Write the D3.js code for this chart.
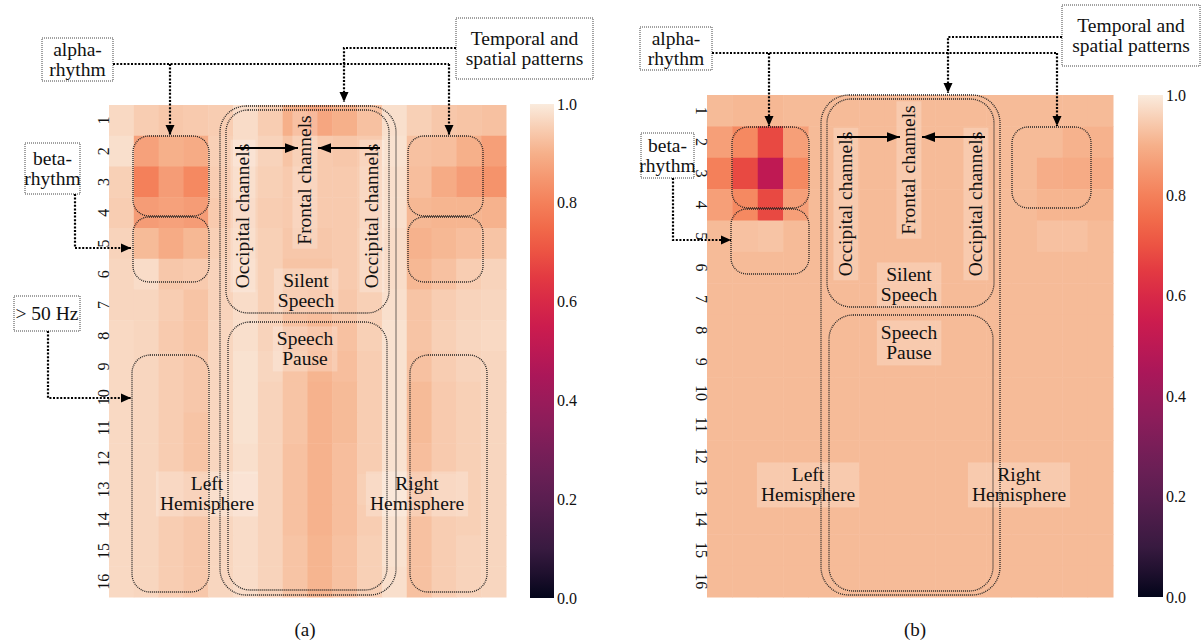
<!DOCTYPE html>
<meta charset="utf-8">
<style>
body { margin: 0; background: #fff; }
text { font-family: "Liberation Serif", "Times New Roman", serif; fill: #111; }
</style>
<body>
<script src="https://d3js.org/d3.v7.min.js"></script>
<script>

// row labels (frequency bands) and colorbar ticks
var rowLabels = d3.range(1, 17).map(String);
var cbTicks = [0, 0.2, 0.4, 0.6, 0.8, 1.0];

// panel (a): 16 bands x 16 channels
var valuesA = [
  [0.97, 0.95, 0.94, 0.945, 0.95, 0.975, 0.95, 0.90, 0.88, 0.90, 0.93, 0.98, 0.955, 0.94, 0.935, 0.93],
  [0.98, 0.87, 0.90, 0.89, 0.955, 0.975, 0.96, 0.935, 0.945, 0.94, 0.945, 0.985, 0.93, 0.925, 0.90, 0.865],
  [0.955, 0.80, 0.86, 0.82, 0.95, 0.965, 0.955, 0.945, 0.945, 0.945, 0.95, 0.98, 0.925, 0.89, 0.86, 0.84],
  [0.95, 0.86, 0.87, 0.86, 0.945, 0.96, 0.95, 0.945, 0.945, 0.945, 0.95, 0.98, 0.915, 0.91, 0.91, 0.905],
  [0.96, 0.92, 0.89, 0.915, 0.955, 0.965, 0.955, 0.94, 0.94, 0.945, 0.955, 0.975, 0.905, 0.915, 0.925, 0.935],
  [0.965, 0.975, 0.94, 0.945, 0.96, 0.97, 0.955, 0.935, 0.935, 0.945, 0.955, 0.975, 0.915, 0.93, 0.95, 0.96],
  [0.965, 0.965, 0.95, 0.935, 0.96, 0.975, 0.955, 0.93, 0.925, 0.94, 0.955, 0.98, 0.935, 0.95, 0.96, 0.965],
  [0.97, 0.965, 0.945, 0.935, 0.965, 0.98, 0.96, 0.93, 0.915, 0.93, 0.955, 0.985, 0.935, 0.955, 0.965, 0.97],
  [0.97, 0.965, 0.95, 0.94, 0.965, 0.985, 0.965, 0.935, 0.91, 0.925, 0.95, 0.985, 0.93, 0.95, 0.96, 0.965],
  [0.97, 0.965, 0.95, 0.94, 0.965, 0.985, 0.96, 0.935, 0.905, 0.92, 0.95, 0.985, 0.92, 0.945, 0.955, 0.965],
  [0.97, 0.965, 0.95, 0.935, 0.965, 0.985, 0.96, 0.935, 0.905, 0.92, 0.95, 0.985, 0.92, 0.945, 0.955, 0.965],
  [0.97, 0.965, 0.95, 0.935, 0.965, 0.98, 0.96, 0.93, 0.905, 0.925, 0.95, 0.985, 0.925, 0.945, 0.955, 0.965],
  [0.97, 0.965, 0.95, 0.94, 0.965, 0.975, 0.96, 0.93, 0.905, 0.925, 0.955, 0.985, 0.93, 0.95, 0.955, 0.965],
  [0.97, 0.965, 0.95, 0.94, 0.965, 0.975, 0.96, 0.93, 0.905, 0.925, 0.95, 0.985, 0.93, 0.95, 0.955, 0.965],
  [0.97, 0.965, 0.95, 0.94, 0.965, 0.975, 0.96, 0.935, 0.91, 0.93, 0.955, 0.985, 0.93, 0.95, 0.96, 0.965],
  [0.97, 0.965, 0.95, 0.94, 0.965, 0.975, 0.96, 0.935, 0.91, 0.93, 0.955, 0.98, 0.93, 0.95, 0.96, 0.965]
];

// panel (b)
var valuesB = [
  [0.92, 0.915, 0.915, 0.92, 0.92, 0.92, 0.92, 0.92, 0.92, 0.92, 0.92, 0.92, 0.92, 0.92, 0.92, 0.92],
  [0.865, 0.82, 0.68, 0.865, 0.92, 0.92, 0.92, 0.92, 0.92, 0.92, 0.92, 0.92, 0.92, 0.92, 0.905, 0.905],
  [0.80, 0.68, 0.51, 0.82, 0.92, 0.92, 0.92, 0.92, 0.92, 0.92, 0.92, 0.92, 0.92, 0.895, 0.89, 0.89],
  [0.865, 0.82, 0.68, 0.865, 0.92, 0.92, 0.92, 0.92, 0.92, 0.92, 0.92, 0.92, 0.92, 0.91, 0.91, 0.91],
  [0.92, 0.93, 0.935, 0.92, 0.92, 0.92, 0.92, 0.92, 0.92, 0.92, 0.92, 0.92, 0.92, 0.93, 0.93, 0.92],
  [0.92, 0.92, 0.92, 0.92, 0.92, 0.92, 0.92, 0.92, 0.92, 0.92, 0.92, 0.92, 0.92, 0.92, 0.92, 0.92],
  [0.92, 0.92, 0.92, 0.92, 0.92, 0.92, 0.92, 0.92, 0.92, 0.92, 0.92, 0.92, 0.92, 0.92, 0.92, 0.92],
  [0.92, 0.92, 0.92, 0.92, 0.92, 0.92, 0.92, 0.92, 0.92, 0.92, 0.92, 0.92, 0.92, 0.92, 0.92, 0.92],
  [0.92, 0.92, 0.92, 0.92, 0.92, 0.92, 0.92, 0.92, 0.92, 0.92, 0.92, 0.92, 0.92, 0.92, 0.92, 0.92],
  [0.92, 0.92, 0.92, 0.92, 0.92, 0.92, 0.92, 0.92, 0.92, 0.92, 0.92, 0.92, 0.92, 0.92, 0.92, 0.92],
  [0.92, 0.92, 0.92, 0.92, 0.92, 0.92, 0.92, 0.92, 0.92, 0.92, 0.92, 0.92, 0.92, 0.92, 0.92, 0.92],
  [0.92, 0.92, 0.92, 0.92, 0.92, 0.92, 0.92, 0.92, 0.92, 0.92, 0.92, 0.92, 0.92, 0.92, 0.92, 0.92],
  [0.92, 0.92, 0.92, 0.92, 0.92, 0.92, 0.92, 0.92, 0.92, 0.92, 0.92, 0.92, 0.92, 0.92, 0.92, 0.92],
  [0.92, 0.92, 0.92, 0.92, 0.92, 0.92, 0.92, 0.92, 0.92, 0.92, 0.92, 0.92, 0.92, 0.92, 0.92, 0.92],
  [0.92, 0.92, 0.92, 0.92, 0.92, 0.92, 0.92, 0.92, 0.92, 0.92, 0.92, 0.92, 0.92, 0.92, 0.92, 0.92],
  [0.92, 0.92, 0.92, 0.92, 0.92, 0.92, 0.92, 0.92, 0.92, 0.92, 0.92, 0.92, 0.92, 0.92, 0.92, 0.92]
];

// seaborn "rocket" colormap, sampled evenly
var rocketStops = ["#03051a", "#35193e", "#541e4e", "#701f57", "#8e1d5b", "#ad1759",
                   "#cb1b4f", "#e13342", "#f06043", "#f58860", "#f6b48f", "#faebdd"];
var rocket = d3.piecewise(d3.interpolateRgb, rocketStops);
var color = d3.scaleSequential(rocket).domain([0, 1]);

var svg = d3.select("body").append("svg")
    .attr("width", 1204)
    .attr("height", 643);

// arrow heads
var defs = svg.append("defs");
defs.append("marker")
    .attr("id", "arrDot")
    .attr("markerUnits", "userSpaceOnUse")
    .attr("viewBox", "0 0 10 10")
    .attr("refX", 10).attr("refY", 5)
    .attr("markerWidth", 10).attr("markerHeight", 10)
    .attr("orient", "auto")
  .append("path")
    .attr("d", "M0,0.5L10,5L0,9.5Z")
    .attr("fill", "#000");
defs.append("marker")
    .attr("id", "arrSolid")
    .attr("markerUnits", "userSpaceOnUse")
    .attr("viewBox", "0 0 12 10")
    .attr("refX", 12).attr("refY", 5)
    .attr("markerWidth", 13).attr("markerHeight", 11)
    .attr("orient", "auto")
  .append("path")
    .attr("d", "M0,0.5L12,5L0,9.5Z")
    .attr("fill", "#000");

// colorbar gradient
var grad = defs.append("linearGradient")
    .attr("id", "cbGrad")
    .attr("x1", 0).attr("y1", 1).attr("x2", 0).attr("y2", 0);
d3.range(0, 1.0001, 0.05).forEach(function(t) {
  grad.append("stop").attr("offset", t).attr("stop-color", color(t));
});

var line = d3.line();

function labelText(g, x, y, lines, rot, withBg) {
  var lh = 20;
  var grp = g.append("g").attr("transform", `translate(${x},${y}) rotate(${rot || 0})`);
  var bg = grp.append("rect");
  var t = grp.append("text")
      .attr("text-anchor", "middle")
      .style("font-size", "19.5px");
  lines.forEach(function(l, i) {
    t.append("tspan")
      .attr("x", 0)
      .attr("y", (i - (lines.length - 1) / 2) * lh)
      .attr("dy", "0.33em")
      .text(l);
  });
  if (withBg) {
    var bb = t.node().getBBox();
    bg.attr("x", bb.x - 4).attr("y", bb.y - 2)
      .attr("width", bb.width + 8).attr("height", bb.height + 4)
      .attr("fill", "#fff").attr("opacity", 0.22);
  }
  return grp;
}

function drawPanel(cfg) {
  var g = svg.append("g");

  var x = d3.scaleBand().domain(d3.range(16)).range([cfg.x0, cfg.x1]);
  var y = d3.scaleBand().domain(rowLabels).range([cfg.y0, cfg.y1]);

  // heatmap cells
  var cells = [];
  cfg.values.forEach(function(row, r) {
    row.forEach(function(v, c) { cells.push({r: rowLabels[r], c: c, v: v}); });
  });
  g.selectAll("rect.cell")
    .data(cells)
    .enter().append("rect")
      .attr("class", "cell")
      .attr("x", d => x(d.c))
      .attr("y", d => y(d.r))
      .attr("width", x.bandwidth() + 0.5)
      .attr("height", y.bandwidth() + 0.5)
      .attr("fill", d => color(d.v));

  // row tick labels (rotated)
  g.selectAll("text.tick")
    .data(rowLabels)
    .enter().append("text")
      .attr("class", "tick")
      .attr("text-anchor", "middle")
      .attr("dy", "0.35em")
      .style("font-size", "16px")
      .attr("transform", d => `translate(${cfg.tickX},${y(d) + y.bandwidth() / 2}) rotate(${cfg.tickRot})`)
      .text(d => d);

  // colorbar
  var cbScale = d3.scaleLinear().domain([0, 1]).range([cfg.cbY1, cfg.cbY0]);
  g.append("rect")
    .attr("x", cfg.cbX).attr("y", cfg.cbY0)
    .attr("width", cfg.cbW).attr("height", cfg.cbY1 - cfg.cbY0)
    .attr("fill", "url(#cbGrad)");
  g.append("g")
    .attr("transform", `translate(${cfg.cbX + cfg.cbW},0)`)
    .call(d3.axisRight(cbScale).tickValues(cbTicks).tickFormat(d3.format(".1f")).tickSize(0).tickPadding(3))
    .call(a => a.select(".domain").remove())
    .selectAll("text")
      .style("font-family", "'Liberation Serif', serif")
      .style("font-size", "16px")
      .attr("fill", "#111");

  // labels inside heatmap
  cfg.labels.forEach(function(l) {
    labelText(g, l.x, l.y, l.lines, l.rot, true);
  });

  // solid arrows occipital -> frontal
  cfg.solid.forEach(function(p) {
    g.append("path")
      .attr("d", line(p))
      .attr("fill", "none")
      .attr("stroke", "#000")
      .attr("stroke-width", 2)
      .attr("marker-end", "url(#arrSolid)");
  });

  // rounded dotted boxes
  g.selectAll("rect.region")
    .data(cfg.regions)
    .enter().append("rect")
      .attr("class", "region")
      .attr("x", d => d[0]).attr("y", d => d[1])
      .attr("width", d => d[2]).attr("height", d => d[3])
      .attr("rx", d => d[4]).attr("ry", d => d[4])
      .attr("fill", "none")
      .attr("stroke", "#222")
      .attr("stroke-width", 1.3)
      .attr("stroke-dasharray", "1,1");

  // annotation boxes outside
  cfg.notes.forEach(function(n) {
    g.append("rect")
      .attr("x", n.box[0]).attr("y", n.box[1])
      .attr("width", n.box[2]).attr("height", n.box[3])
      .attr("fill", "#fff")
      .attr("stroke", "#444")
      .attr("stroke-width", 1)
      .attr("stroke-dasharray", "1,1");
    labelText(g, n.box[0] + n.box[2] / 2, n.box[1] + n.box[3] / 2, n.lines, 0, false);
  });

  // dotted connectors
  cfg.links.forEach(function(k) {
    g.append("path")
      .attr("d", line(k.pts))
      .attr("fill", "none")
      .attr("stroke", "#000")
      .attr("stroke-width", 2.2)
      .attr("stroke-dasharray", "2,1.6")
      .attr("marker-end", k.arrow ? "url(#arrDot)" : null);
  });

  // panel caption
  g.append("text")
    .attr("x", cfg.capX).attr("y", 636)
    .attr("text-anchor", "middle")
    .style("font-size", "19px")
    .text(cfg.caption);
}

drawPanel({
  values: valuesA,
  x0: 109, x1: 506, y0: 105, y1: 597,
  tickX: 103, tickRot: -90,
  cbX: 530, cbW: 24, cbY0: 104, cbY1: 598,
  caption: "(a)", capX: 305,
  labels: [
    {x: 243, y: 216, lines: ["Occipital channels"], rot: -90},
    {x: 305, y: 180, lines: ["Frontal channels"], rot: -90},
    {x: 372, y: 216, lines: ["Occipital channels"], rot: -90},
    {x: 306, y: 291, lines: ["Silent", "Speech"]},
    {x: 305, y: 349, lines: ["Speech", "Pause"]},
    {x: 207, y: 494, lines: ["Left", "Hemisphere"]},
    {x: 417, y: 494, lines: ["Right", "Hemisphere"]}
  ],
  solid: [[[235, 148], [298, 148]], [[380, 148], [318, 148]]],
  regions: [
    [133, 136, 76, 80, 16], [133, 217, 76, 65, 16],
    [408, 136, 75, 80, 16], [408, 217, 75, 65, 16],
    [220, 106, 176, 489, 26], [226, 110, 163, 203, 22], [228, 322, 159, 268, 22],
    [132, 355, 77, 237, 18], [410, 355, 77, 237, 18]
  ],
  notes: [
    {box: [42, 38, 71, 43], lines: ["alpha-", "rhythm"]},
    {box: [456, 18, 137, 61], lines: ["Temporal and", "spatial patterns"]},
    {box: [25, 143, 55, 51], lines: ["beta-", "rhythm"]},
    {box: [14, 296, 66, 35], lines: ["> 50 Hz"]}
  ],
  links: [
    {pts: [[113, 64], [449, 64]]},
    {pts: [[170, 64], [170, 135]], arrow: true},
    {pts: [[449, 64], [449, 135]], arrow: true},
    {pts: [[456, 48], [344, 48], [344, 102]], arrow: true},
    {pts: [[75, 194], [75, 248], [131, 248]], arrow: true},
    {pts: [[48, 331], [48, 398], [131, 398]], arrow: true}
  ]
});

drawPanel({
  values: valuesB,
  x0: 707, x1: 1113, y0: 95, y1: 597,
  tickX: 702, tickRot: 90,
  cbX: 1138, cbW: 25, cbY0: 95, cbY1: 597,
  caption: "(b)", capX: 915,
  labels: [
    {x: 846, y: 204, lines: ["Occipital channels"], rot: -90},
    {x: 909, y: 170, lines: ["Frontal channels"], rot: -90},
    {x: 976, y: 204, lines: ["Occipital channels"], rot: -90},
    {x: 909, y: 285, lines: ["Silent", "Speech"]},
    {x: 909, y: 343, lines: ["Speech", "Pause"]},
    {x: 808, y: 485, lines: ["Left", "Hemisphere"]},
    {x: 1019, y: 485, lines: ["Right", "Hemisphere"]}
  ],
  solid: [[[837, 137], [900, 137]], [[985, 137], [922, 137]]],
  regions: [
    [732, 127, 77, 81, 16], [731, 209, 78, 65, 16], [1012, 127, 79, 81, 16],
    [821, 95, 179, 500, 28], [827, 99, 167, 208, 24], [829, 315, 164, 276, 24]
  ],
  notes: [
    {box: [640, 27, 72, 43], lines: ["alpha-", "rhythm"]},
    {box: [1062, 5, 138, 61], lines: ["Temporal and", "spatial patterns"]},
    {box: [641, 133, 53, 45], lines: ["beta-", "rhythm"]}
  ],
  links: [
    {pts: [[712, 53], [1057, 53]]},
    {pts: [[769, 53], [769, 126]], arrow: true},
    {pts: [[1057, 53], [1057, 126]], arrow: true},
    {pts: [[1062, 37], [948, 37], [948, 93]], arrow: true},
    {pts: [[673, 178], [673, 240], [731, 240]], arrow: true}
  ]
});

</script>
</body>
</html>
